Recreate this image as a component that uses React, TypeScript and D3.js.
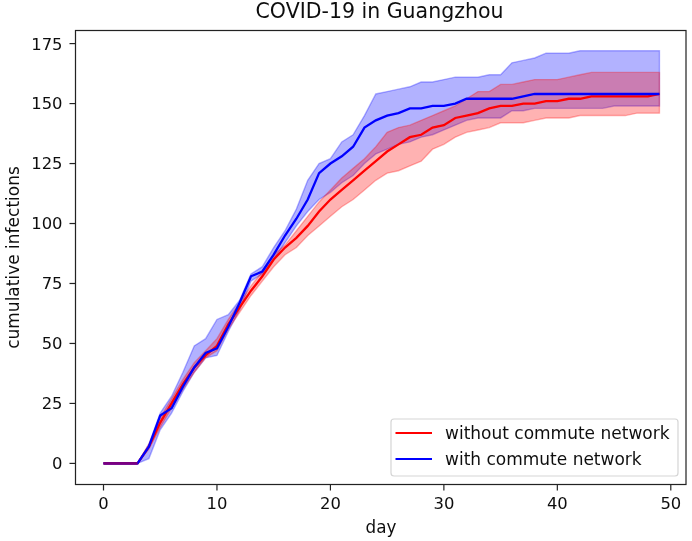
import React from 'react';
import * as d3 from 'd3';

const days = d3.range(0, 50);

const redMean = [0, 0, 0, 0, 7, 17, 25, 33, 40, 45, 49, 58, 65, 72, 78, 85, 90, 94, 99, 105, 110, 114, 118, 122, 126, 130, 133, 136, 137, 140, 141, 144, 145, 146, 148, 149, 149, 150, 150, 151, 151, 152, 152, 153, 153, 153, 153, 153, 153, 154];
const redUpper = [0, 0, 0, 0, 8, 19, 27, 35, 42, 47, 52, 60, 67, 74, 80, 87, 91, 97, 103, 109, 114, 119, 123, 127, 132, 138, 140, 141, 143, 145, 147, 149, 152, 155, 155, 158, 158, 159, 160, 160, 160, 161, 162, 163, 163, 163, 163, 163, 163, 163];
const redLower = [0, 0, 0, 0, 6, 15, 23, 31, 38, 44, 47, 56, 63, 70, 76, 82, 87, 90, 95, 99, 103, 107, 110, 114, 118, 121, 122, 124, 126, 131, 133, 136, 138, 139, 140, 142, 142, 142, 143, 144, 144, 144, 145, 145, 145, 145, 145, 146, 146, 146];

const blueMean = [0, 0, 0, 0, 7, 20, 23, 32, 40, 46, 48, 57, 67, 78, 80, 87, 95, 102, 110, 121, 125, 128, 132, 140, 143, 145, 146, 148, 148, 149, 149, 150, 152, 152, 152, 152, 152, 153, 154, 154, 154, 154, 154, 154, 154, 154, 154, 154, 154, 154];
const blueUpper = [0, 0, 0, 0, 8, 21, 28, 38, 49, 52, 60, 62, 68, 79, 82, 90, 97, 106, 118, 125, 127, 134, 137, 145, 154, 155, 156, 157, 159, 159, 160, 161, 161, 161, 162, 162, 167, 168, 169, 171, 171, 171, 172, 172, 172, 172, 172, 172, 172, 172];
const blueLower = [0, 0, 0, 0, 2, 14, 21, 30, 38, 44, 45, 55, 64, 76, 79, 85, 92, 99, 105, 110, 113, 117, 120, 125, 129, 131, 133, 134, 136, 137, 139, 141, 143, 144, 144, 144, 147, 147, 148, 148, 148, 148, 148, 148, 148, 149, 149, 149, 149, 149];

const xTicks = [0, 10, 20, 30, 40, 50];
const yTicks = [0, 25, 50, 75, 100, 125, 150, 175];

const legendItems = [
  { label: 'without commute network', color: '#ff0000' },
  { label: 'with commute network', color: '#0000ff' },
];

const font = '"DejaVu Sans", sans-serif';
const textColor = '#111';

const App: React.FC = () => {
  const frame = { left: 75.5, right: 686, top: 30.5, bottom: 484.5 };

  const x = d3.scaleLinear().domain([0, 50]).range([103.5, 670.8]);
  const y = d3.scaleLinear().domain([0, 175]).range([463.4, 43.6]);

  const band = (upper: number[], lower: number[]) =>
    d3.area<number>()
      .x((d) => x(d))
      .y0((d) => y(lower[d]))
      .y1((d) => y(upper[d]))(days) ?? '';

  const line = (values: number[]) =>
    d3.line<number>()
      .x((d) => x(d))
      .y((d) => y(values[d]))(days) ?? '';

  // both runs sit on zero at the start and the colours mix there
  const flatDays = days.filter((d) => redUpper[d] === 0 && blueUpper[d] === 0);
  const flatLine = d3.line<number>()
    .x((d) => x(d))
    .y((d) => y(redMean[d]))(flatDays) ?? '';

  return (
    <svg
      width={692}
      height={541}
      viewBox="0 0 692 541"
      style={{ position: 'absolute', left: 0, top: 0, background: '#fff' }}
      fontFamily={font}
    >
      <defs>
        <filter id="soft" x="-5%" y="-5%" width="110%" height="110%">
          <feGaussianBlur stdDeviation="0.4" />
        </filter>
      </defs>
      <g filter="url(#soft)">
        {/* Bands */}
        <path d={band(blueUpper, blueLower)} fill="#0000ff" fillOpacity={0.3} stroke="#0000ff" strokeOpacity={0.3} strokeWidth={1.4} />
        <path d={band(redUpper, redLower)} fill="#ff0000" fillOpacity={0.3} stroke="#ff0000" strokeOpacity={0.3} strokeWidth={1.4} />

        {/* Mean lines */}
        <path d={line(redMean)} fill="none" stroke="#ff0000" strokeWidth={2.3} />
        <path d={line(blueMean)} fill="none" stroke="#0000ff" strokeWidth={2.3} />
        <path d={flatLine} fill="none" stroke="#7a0080" strokeWidth={2.6} />

        {/* Frame */}
        <rect
          x={frame.left}
          y={frame.top}
          width={frame.right - frame.left}
          height={frame.bottom - frame.top}
          fill="none"
          stroke="#222"
          strokeWidth={1.2}
        />

        {/* Axes */}
        {xTicks.map((tick) => (
          <g key={tick} transform={`translate(${x(tick)}, ${frame.bottom})`}>
            <line y2={6} stroke="#222" strokeWidth={1.2} />
            <text y={24.5} textAnchor="middle" fontSize={16.4} fill={textColor}>{tick}</text>
          </g>
        ))}
        {yTicks.map((tick) => (
          <g key={tick} transform={`translate(${frame.left}, ${y(tick)})`}>
            <line x2={-6} stroke="#222" strokeWidth={1.2} />
            <text x={-13} dy="0.36em" textAnchor="end" fontSize={16.4} fill={textColor}>{tick}</text>
          </g>
        ))}
        <text x={381} y={533} textAnchor="middle" fontSize={16.8} fill={textColor}>day</text>
        <text
          transform="translate(19, 257.5) rotate(-90)"
          textAnchor="middle"
          fontSize={17}
          fill={textColor}
        >
          cumulative infections
        </text>
        <text x={379.5} y={18} textAnchor="middle" fontSize={20.5} fill={textColor}>COVID-19 in Guangzhou</text>

        {/* Legend */}
        <rect x={391} y={419} width={287} height={57} rx={3} fill="#fff" fillOpacity={0.8} stroke="#d5d5d5" strokeWidth={1.2} />
        {legendItems.map((item, i) => (
          <g key={item.label} transform={`translate(395.5, ${433 + i * 26})`}>
            <line x2={36.5} stroke={item.color} strokeWidth={2.2} />
            <text x={49.5} dy="0.36em" fontSize={17} fill={textColor}>{item.label}</text>
          </g>
        ))}
      </g>
    </svg>
  );
};

export default App;
